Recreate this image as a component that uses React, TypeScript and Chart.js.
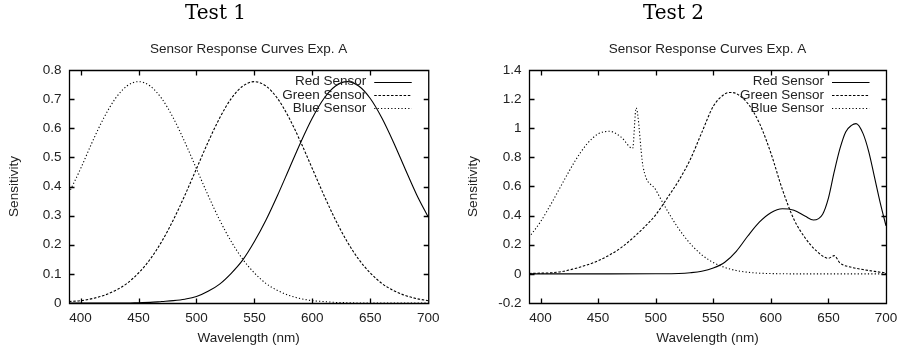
import React, { useEffect, useRef } from "react";
import { Chart, registerables } from "chart.js";

Chart.register(...registerables);

// ---------- Data ----------
const seriesNames = ["Red Sensor", "Green Sensor", "Blue Sensor"];
const panelTitles = ["Test 1", "Test 2"];
const chartTitle = "Sensor Response Curves Exp. A";
const xAxisTitle = "Wavelength (nm)";
const yAxisTitle = "Sensitivity";

const xTicks = [400, 450, 500, 550, 600, 650, 700];
const yTicks1 = [0, 0.1, 0.2, 0.3, 0.4, 0.5, 0.6, 0.7, 0.8];
const yTicks2 = [-0.2, 0, 0.2, 0.4, 0.6, 0.8, 1, 1.2, 1.4];

// Test 1 (sampled every 10 nm)
const test1Nm = [390, 400, 410, 420, 430, 440, 450, 460, 470, 480, 490, 500, 510, 520, 530, 540,
  550, 560, 570, 580, 590, 600, 610, 620, 630, 640, 650, 660, 670, 680, 690, 700];
const test1Red = [0, 0, 0, 0, 0, 0, 0.001, 0.002, 0.005, 0.008, 0.013, 0.022, 0.04, 0.065, 0.102, 0.148,
  0.211, 0.285, 0.37, 0.461, 0.552, 0.635, 0.702, 0.745, 0.76, 0.745, 0.702, 0.635, 0.552, 0.461, 0.372, 0.295];
const test1Green = [0.005, 0.008, 0.015, 0.026, 0.043, 0.067, 0.103, 0.15, 0.211, 0.285, 0.37, 0.461, 0.552, 0.635, 0.702, 0.745,
  0.76, 0.745, 0.702, 0.635, 0.552, 0.461, 0.37, 0.285, 0.211, 0.15, 0.103, 0.067, 0.043, 0.026, 0.015, 0.008];
const test1Blue = [0.378, 0.461, 0.552, 0.635, 0.702, 0.745, 0.76, 0.745, 0.702, 0.635, 0.552, 0.461, 0.37, 0.285, 0.211, 0.15,
  0.103, 0.067, 0.043, 0.026, 0.015, 0.008, 0.005, 0.002, 0.001, 0, 0, 0, 0, 0, 0, 0];

// Test 2
const test2RedNm = [390, 450, 500, 520, 530, 540, 550, 560, 570, 580, 590, 600, 610, 620, 630, 637,
  645, 650, 655, 660, 665, 670, 674, 680, 685, 690, 695, 700];
const test2Red = [0, 0, 0.001, 0.003, 0.008, 0.018, 0.04, 0.08, 0.155, 0.26, 0.355, 0.42, 0.447, 0.437, 0.395, 0.37,
  0.41, 0.52, 0.7, 0.86, 0.975, 1.02, 1.032, 0.965, 0.84, 0.665, 0.488, 0.33];
const test2GreenNm = [390, 400, 410, 420, 430, 440, 450, 460, 470, 480, 490, 500, 510, 520, 530, 540, 550, 560,
  565, 570, 580, 590, 600, 610, 620, 630, 640, 650, 655, 660, 670, 680, 690, 700];
const test2Green = [0.003, 0.005, 0.008, 0.018, 0.037, 0.06, 0.09, 0.13, 0.18, 0.245, 0.32, 0.405, 0.52, 0.64, 0.785, 0.97, 1.15, 1.235,
  1.246, 1.238, 1.17, 1.036, 0.83, 0.58, 0.375, 0.245, 0.155, 0.107, 0.125, 0.075, 0.045, 0.03, 0.017, 0.007];
const test2BlueNm = [390, 400, 410, 420, 430, 440, 450, 460, 470, 480, 483, 489, 500, 510, 520, 530, 540,
  550, 560, 570, 580, 590, 600, 610, 620, 700];
const test2Blue = [0.25, 0.358, 0.492, 0.636, 0.775, 0.889, 0.961, 0.979, 0.939, 0.862, 1.14, 0.738, 0.578, 0.436, 0.31, 0.208, 0.131,
  0.078, 0.044, 0.023, 0.011, 0.005, 0.002, 0.001, 0, 0];

// ---------- Styling ----------
const SANS = "'Liberation Sans', Arial, Helvetica, sans-serif";
const SERIF = "'DejaVu Serif', 'Liberation Serif', serif";
const TEXT = "#222";
const dashes = [[], [2.5, 1.7], [1.2, 2.2]];

const gnuplotFrame = {
  id: "gnuplotFrame",
  beforeDatasetsDraw(chart: any) {
    const { ctx, chartArea: a, scales } = chart;
    const L = a.left + 0.5, R = a.right + 0.5, T = a.top + 0.5, B = a.bottom + 0.5;
    ctx.save();
    ctx.strokeStyle = "#000";
    ctx.lineWidth = 1.3;
    ctx.setLineDash([]);
    ctx.beginPath();
    ctx.rect(L, T, R - L, B - T);
    for (const t of scales.x.ticks) {
      const px = Math.round(scales.x.getPixelForValue(t.value)) + 0.5;
      if (px <= L + 1 || px >= R - 1) continue;
      ctx.moveTo(px, B); ctx.lineTo(px, B - 5);
      ctx.moveTo(px, T); ctx.lineTo(px, T + 5);
    }
    for (const t of scales.y.ticks) {
      const py = Math.round(scales.y.getPixelForValue(t.value)) + 0.5;
      if (py <= T + 1 || py >= B - 1) continue;
      ctx.moveTo(L, py); ctx.lineTo(L + 5, py);
      ctx.moveTo(R, py); ctx.lineTo(R - 5, py);
    }
    ctx.stroke();
    ctx.restore();
  },
  afterDatasetsDraw(chart: any) {
    const { ctx, chartArea: a } = chart;
    ctx.save();
    ctx.font = `13.5px ${SANS}`;
    ctx.textAlign = "right";
    ctx.textBaseline = "middle";
    chart.data.datasets.forEach((ds: any, i: number) => {
      const y = a.top + 11.5 + i * 13.3;
      ctx.fillStyle = TEXT;
      ctx.fillText(ds.label, a.right - 62, y);
      ctx.beginPath();
      ctx.strokeStyle = "#000";
      ctx.lineWidth = 1;
      ctx.setLineDash(ds.borderDash || []);
      ctx.moveTo(a.right - 54, Math.round(y) + 0.5);
      ctx.lineTo(a.right - 16.5, Math.round(y) + 0.5);
      ctx.stroke();
    });
    ctx.restore();
  },
};

type Series = { nm: number[]; values: number[] };

function SensorChart(props: {
  title: string; series: Series[]; yTicks: number[]; left: number; yWidth: number; padRight: number;
}) {
  const ref = useRef<HTMLCanvasElement>(null);
  useEffect(() => {
    const { title, series, yTicks, yWidth, padRight } = props;
    const chart = new Chart(ref.current as HTMLCanvasElement, {
      type: "line",
      data: {
        datasets: series.map((s, i) => ({
          label: seriesNames[i],
          data: s.nm.map((x, j) => ({ x, y: s.values[j] })),
          borderColor: "#000",
          borderWidth: 1.1,
          borderDash: dashes[i],
          pointRadius: 0,
          fill: false,
          cubicInterpolationMode: "monotone",
        })),
      },
      options: {
        responsive: false,
        animation: false,
        events: [],
        layout: { padding: { left: 0, right: padRight, top: 0, bottom: 0 } },
        plugins: {
          legend: { display: false },
          tooltip: { enabled: false },
          title: {
            display: true, text: title, color: "#000",
            font: { family: SERIF, size: 20, weight: "normal", lineHeight: 1.2 },
            padding: { top: 1.5, bottom: 0 },
          },
          subtitle: {
            display: true, text: chartTitle, color: TEXT, fullSize: false,
            font: { family: SANS, size: 13.5, weight: "normal", lineHeight: 1.2 },
            padding: { top: 15.7, bottom: 12.6 },
          },
        },
        scales: {
          x: {
            type: "linear", min: 390, max: 700,
            grid: { display: false, drawTicks: false, tickLength: 0 },
            border: { display: false },
            ticks: {
              color: TEXT, padding: 7.5, font: { family: SANS, size: 13.5 },
              callback: (v: any) => String(v), maxRotation: 0,
            },
            afterBuildTicks: (s: any) => { s.ticks = xTicks.map((v) => ({ value: v })); },
            afterFit: (s: any) => { s.height = 46; },
            title: {
              display: true, text: xAxisTitle, color: TEXT,
              font: { family: SANS, size: 13.5, lineHeight: 1.2 },
              padding: { top: 0, bottom: 3 },
            },
          },
          y: {
            type: "linear", min: yTicks[0], max: yTicks[yTicks.length - 1],
            grid: { display: false, drawTicks: false, tickLength: 0 },
            border: { display: false },
            ticks: {
              color: TEXT, padding: 7.6, font: { family: SANS, size: 13.5 },
              callback: (v: any) => String(Math.round(Number(v) * 10) / 10),
            },
            afterBuildTicks: (s: any) => { s.ticks = yTicks.map((v) => ({ value: v })); },
            afterFit: (s: any) => { s.width = yWidth; },
            title: {
              display: true, text: yAxisTitle, color: TEXT,
              font: { family: SANS, size: 13.5, lineHeight: 1.2 },
              padding: { top: 4, bottom: 0 },
            },
          },
        },
      } as any,
      plugins: [gnuplotFrame],
    });
    return () => chart.destroy();
  }, []);
  return (
    <canvas
      ref={ref}
      width={445}
      height={349}
      style={{ position: "absolute", left: props.left, top: 0, width: 445, height: 349, display: "block" }}
    />
  );
}

export default function App() {
  const test1: Series[] = [
    { nm: test1Nm, values: test1Red },
    { nm: test1Nm, values: test1Green },
    { nm: test1Nm, values: test1Blue },
  ];
  const test2: Series[] = [
    { nm: test2RedNm, values: test2Red },
    { nm: test2GreenNm, values: test2Green },
    { nm: test2BlueNm, values: test2Blue },
  ];
  return (
    <div style={{ position: "fixed", left: 0, top: 0, width: 904, height: 349, overflow: "hidden", background: "#fff" }}>
      <SensorChart title={panelTitles[0]} series={test1} yTicks={yTicks1} left={2} yWidth={67} padRight={18} />
      <SensorChart title={panelTitles[1]} series={test2} yTicks={yTicks2} left={461} yWidth={68} padRight={20} />
    </div>
  );
}
